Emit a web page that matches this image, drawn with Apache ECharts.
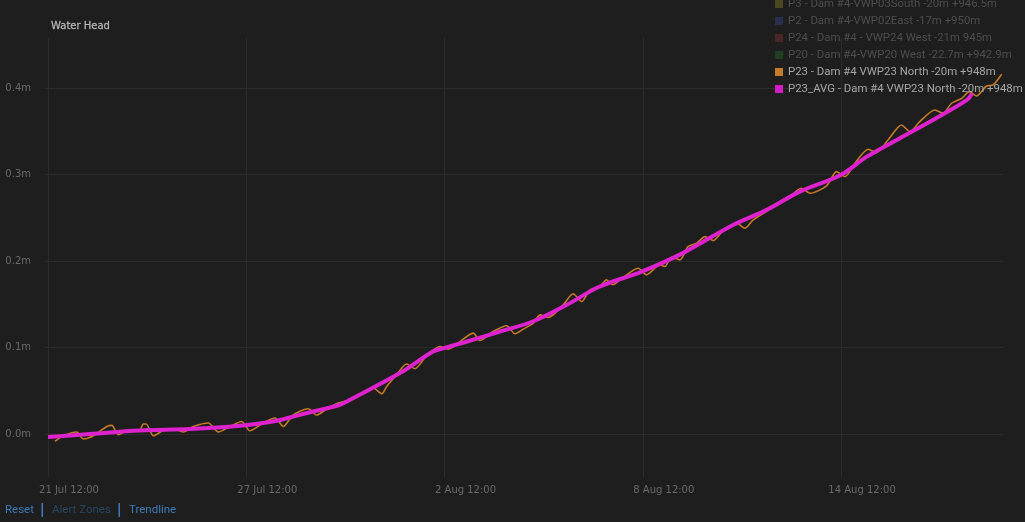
<!DOCTYPE html>
<html>
<head>
<meta charset="utf-8">
<script src="https://cdn.jsdelivr.net/npm/echarts@6/dist/echarts.min.js"></script>
<style>
html,body{margin:0;padding:0;background:#1e1e1e;}
#chart{width:1025px;height:522px;}
</style>
</head>
<body>
<div id="chart"></div>
<script>
// ---- data ----
const chartTitle = 'Water Head';
const xTickLabels = ['21 Jul 12:00', '27 Jul 12:00', '2 Aug 12:00', '8 Aug 12:00', '14 Aug 12:00'];
const yTickValues = [0, 0.1, 0.2, 0.3, 0.4];
// days since 21 Jul 12:00
const rawDays = [0.21,0.46,0.87,1.07,1.22,1.42,1.78,1.93,2.13,2.43,2.78,2.88,2.97,3.19,3.49,3.79,4.09,4.40,4.85,5.15,5.51,5.86,6.11,6.51,6.87,7.12,7.42,7.88,8.13,8.43,8.78,9.14,9.84,10.10,10.25,10.55,10.85,11.10,11.46,11.86,12.11,12.37,12.87,13.07,13.47,13.88,14.13,14.38,14.69,14.89,15.14,15.59,15.89,16.15,16.40,16.70,16.90,17.10,17.31,17.86,18.11,18.52,18.67,18.87,19.12,19.37,19.63,19.88,20.13,20.43,20.84,21.09,21.34,21.85,22.40,22.80,23.06,23.56,23.86,24.12,24.42,24.82,25.07,25.42,25.83,26.08,26.38,26.84,27.09,27.34,27.65,27.88,28.10,28.40,28.60,28.86];
const rawHead = [-0.0089,-0.0023,0.0020,-0.0061,-0.0050,-0.0012,0.0084,0.0096,-0.0012,0.0046,0.0046,0.0112,0.0112,-0.0023,0.0038,0.0058,0.0020,0.0084,0.0124,0.0020,0.0084,0.0142,0.0035,0.0124,0.0181,0.0084,0.0219,0.0289,0.0216,0.0285,0.0355,0.0393,0.0528,0.0462,0.0546,0.0681,0.0805,0.0751,0.0901,0.1008,0.0978,0.1036,0.1163,0.1077,0.1181,0.1247,0.1155,0.1209,0.1278,0.1374,0.1343,0.1490,0.1617,0.1528,0.1663,0.1701,0.1778,0.1721,0.1778,0.1913,0.1836,0.1952,0.1932,0.2040,0.2009,0.2163,0.2202,0.2278,0.2232,0.2348,0.2433,0.2375,0.2471,0.2595,0.2722,0.2837,0.2779,0.2864,0.3029,0.2971,0.3126,0.3288,0.3248,0.3395,0.3568,0.3491,0.3606,0.3741,0.3703,0.3819,0.3876,0.3953,0.3903,0.4018,0.4030,0.4154];
const avgDays = [0,1.27,2.78,4.30,5.81,6.81,7.32,7.84,8.84,9.14,10.65,11.65,11.98,12.68,13.68,14.67,15.70,16.70,17.97,19.21,20.73,21.75,22.75,23.99,24.78,25.78,26.78,27.81,27.96];
const avgHead = [-0.0038,-0.0003,0.0038,0.0054,0.0092,0.0142,0.0188,0.0239,0.0335,0.0393,0.0701,0.0950,0.0990,0.1066,0.1181,0.1297,0.1490,0.1701,0.1874,0.2087,0.2413,0.2587,0.2798,0.2991,0.3202,0.3415,0.3626,0.3857,0.3934];
const seriesNames = [
  'P3 - Dam #4-VWP03South -20m +946.5m',
  'P2 - Dam #4-VWP02East -17m +950m',
  'P24 - Dam #4 - VWP24 West -21m 945m',
  'P20 - Dam #4-VWP20 West -22.7m +942.9m',
  'P23 - Dam #4 VWP23 North -20m +948m',
  'P23_AVG - Dam #4 VWP23 North -20m +948m'
];
const seriesColors = ['#4a4820', '#27304e', '#4a2727', '#1f3f21', '#c57a26', '#d41cc6'];
const seriesActive = [false, false, false, false, true, true];
const linkLabels = ['Reset', 'Alert Zones', 'Trendline'];

// ---- chart ----
const chart = echarts.init(document.getElementById('chart'), null, {renderer: 'canvas'});
const FONT = 'DejaVu Sans';
const pairs = (xs, ys) => xs.map((x, i) => [x, ys[i]]);

const series = seriesNames.map((name, i) => {
  const s = {
    name: name, type: 'line', xAxisIndex: 0, yAxisIndex: 0,
    showSymbol: false, symbol: 'none', animation: false,
    color: seriesColors[i], data: []
  };
  if (i === 4) { s.data = pairs(rawDays, rawHead); s.smooth = 0.25; s.lineStyle = {width: 1.6, color: seriesColors[i]}; s.z = 2; }
  if (i === 5) { s.data = pairs(avgDays, avgHead); s.smooth = 0.35; s.lineStyle = {width: 4, color: '#de22ce'}; s.z = 3; }
  return s;
});

const linkColors = ['#3d7bb8', '#2b4660', '#3d7bb8'];
const linkX = [5, 52, 129];
const sepX = [41.5, 118.5];

const graphics = linkLabels.map((t, i) => ({
  type: 'text', left: linkX[i], top: 504,
  style: {text: t, fill: linkColors[i], font: '11.5px Roboto'}
})).concat(sepX.map(x => ({
  type: 'rect', shape: {x: x, y: 503, width: 1.5, height: 14},
  style: {fill: '#3d7bb8'}
})));

chart.setOption({
  backgroundColor: '#1e1e1e',
  animation: false,
  title: {
    text: chartTitle, left: 51, top: 21, padding: 0,
    textStyle: {color: '#bababa', fontFamily: FONT, fontSize: 10, fontWeight: 'normal', textBorderColor: '#9a9a9a', textBorderWidth: 0.3}
  },
  legend: {
    orient: 'vertical', left: 775, top: -2, padding: 0, itemGap: 5,
    itemWidth: 8, itemHeight: 8, icon: 'rect', selectedMode: false,
    data: seriesNames.map((n, i) => ({
      name: n, textStyle: {color: seriesActive[i] ? '#a6a6a6' : '#4e4e4e'}
    })),
    textStyle: {fontFamily: 'Roboto', fontSize: 11.4, lineHeight: 12}
  },
  grid: [
    {left: 48, right: 22, top: 38, bottom: 45},
    {left: 45, right: 22, top: 88, bottom: 88}
  ],
  xAxis: [
    {
      type: 'value', gridIndex: 0, min: 0, max: 28.9, interval: 6,
      axisLine: {show: false}, axisTick: {show: false},
      splitLine: {show: true, showMaxLine: false, lineStyle: {color: '#2c2c2c', width: 1}},
      axisLabel: {
        color: '#6a6a6a', fontFamily: FONT, fontSize: 10, margin: 8,
        padding: [0, 0, 0, 42], showMaxLabel: false,
        formatter: v => {
          const k = Math.round(v / 6);
          return Math.abs(v - k * 6) < 1e-6 && xTickLabels[k] ? xTickLabels[k] : '';
        }
      }
    },
    {type: 'value', gridIndex: 1, min: 0, max: 1, show: false}
  ],
  yAxis: [
    {type: 'value', gridIndex: 0, min: -0.05, max: 0.4573, show: false},
    {
      type: 'value', gridIndex: 1, min: yTickValues[0], max: yTickValues[yTickValues.length - 1], interval: 0.1,
      axisLine: {show: false}, axisTick: {show: false},
      splitLine: {show: true, lineStyle: {color: '#2c2c2c', width: 1}},
      axisLabel: {color: '#6a6a6a', fontFamily: FONT, fontSize: 10, margin: 14, formatter: v => v.toFixed(1) + 'm'}
    }
  ],
  series: series,
  graphic: graphics
});
</script>
</body>
</html>
